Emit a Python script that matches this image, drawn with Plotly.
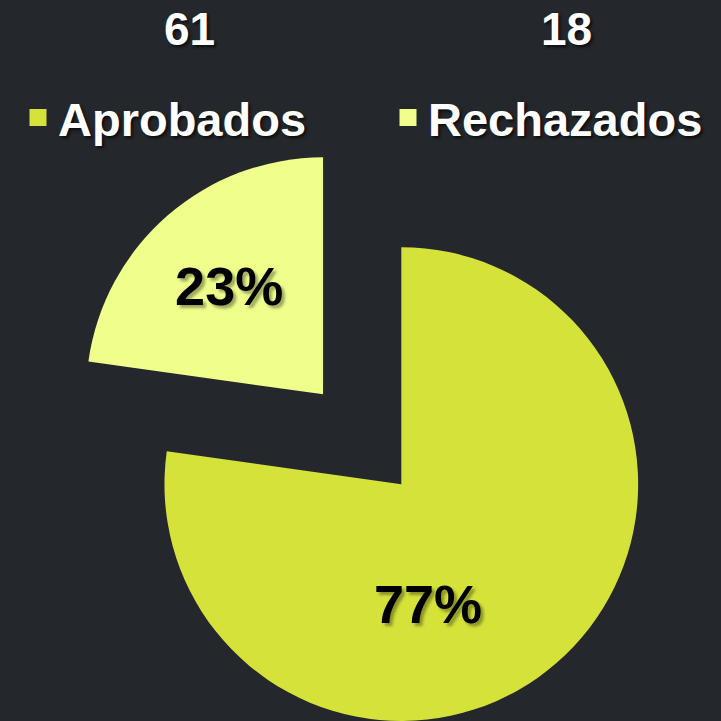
import math
import plotly.graph_objects as go

# ---- data ----
categories = ["Aprobados", "Rechazados"]
counts = [61, 18]
slice_colors = ["#D4E23A", "#F0FF8C"]

# ---- layout constants ----
W = H = 721
BG = "#24272B"
R = 237.0                 # pie radius in px
CX, CY = 401.3, 484.3     # centre of the (un-exploded) pie, px
PULL = 0.503              # explosion of the "Rechazados" slice (fraction of radius)
FONT = "Arial, Liberation Sans, sans-serif"
CLEAR = "rgba(0,0,0,0)"

total = sum(counts)
shares = [v / total for v in counts]
# bisector of the exploded slice, measured clockwise from 12 o'clock
mid = (shares[0] + shares[1] / 2) * 2 * math.pi
dx = math.sin(mid) * PULL * R
dy = -math.cos(mid) * PULL * R


def domain(cx, cy, r):
    clamp = lambda v: min(1.0, max(0.0, v))
    return dict(x=[clamp((cx - r) / W), clamp((cx + r) / W)],
                y=[clamp(1 - (cy + r) / H), clamp(1 - (cy - r) / H)])


pct_font = dict(family=FONT, size=54, color="black", weight="bold",
                shadow="3px 3px 3px rgba(0,0,0,0.35)")
legend_font = dict(family=FONT, size=47, color="white", weight="bold",
                   shadow="2px 2px 3px rgba(0,0,0,0.7)")

common = dict(labels=categories, values=counts, sort=False, direction="clockwise",
              rotation=0, texttemplate="%{percent:.0%}",
              insidetextorientation="horizontal", showlegend=False,
              textfont=pct_font, insidetextfont=pct_font,
              marker_line_width=0)

fig = go.Figure()

# legend carriers (practically zero-size, hidden under the big slice),
# one per legend so the two entries can be placed like the original
legend_ids = ["legend", "legend2"]
for i, (cat, val, col) in enumerate(zip(categories, counts, slice_colors)):
    fig.add_trace(go.Pie(labels=[cat], values=[val], sort=False,
                         marker=dict(colors=[col], line=dict(color=[col], width=5)),
                         textinfo="none", hoverinfo="skip", showlegend=True,
                         legend=legend_ids[i],
                         domain=dict(x=[0.60, 0.6001], y=[0.25, 0.2501])))

# main slice (Aprobados); its percentage is written as an annotation below
fig.add_trace(go.Pie(**common,
                     marker=dict(colors=[slice_colors[0], CLEAR]),
                     textposition=["none", "none"],
                     domain=domain(CX, CY, R)))

# exploded slice (Rechazados)
fig.add_trace(go.Pie(**common,
                     marker=dict(colors=[CLEAR, slice_colors[1]]),
                     textposition=["none", "inside"],
                     domain=domain(CX + dx, CY + dy, R)))

count_font = dict(family=FONT, size=46, color="white", weight="bold",
                  shadow="2px 2px 3px rgba(0,0,0,0.7)")
count_x = [189 / W, 566 / W]
annotations = [dict(text=str(v), x=x, y=1 - 29 / H, xref="paper", yref="paper",
                    xanchor="center", yanchor="middle", showarrow=False,
                    font=count_font)
               for v, x in zip(counts, count_x)]
annotations.append(dict(text=f"{round(shares[0] * 100)}%", x=428 / W, y=1 - 604 / H,
                        xref="paper", yref="paper", xanchor="center",
                        yanchor="middle", showarrow=False, font=pct_font))

legend_common = dict(orientation="h", xanchor="left", y=1 - 118 / H,
                     yanchor="middle", bgcolor=CLEAR, font=legend_font)

fig.update_layout(
    width=W, height=H,
    margin=dict(l=0, r=0, t=0, b=0),
    paper_bgcolor=BG, plot_bgcolor=BG,
    annotations=annotations,
    legend=dict(x=18 / W, **legend_common),
    legend2=dict(x=388 / W, **legend_common),
)

fig.write_html("out.html", config={"displayModeBar": False},
               post_script="document.body.style.margin='0';"
                           "document.body.style.background='" + BG + "';")
